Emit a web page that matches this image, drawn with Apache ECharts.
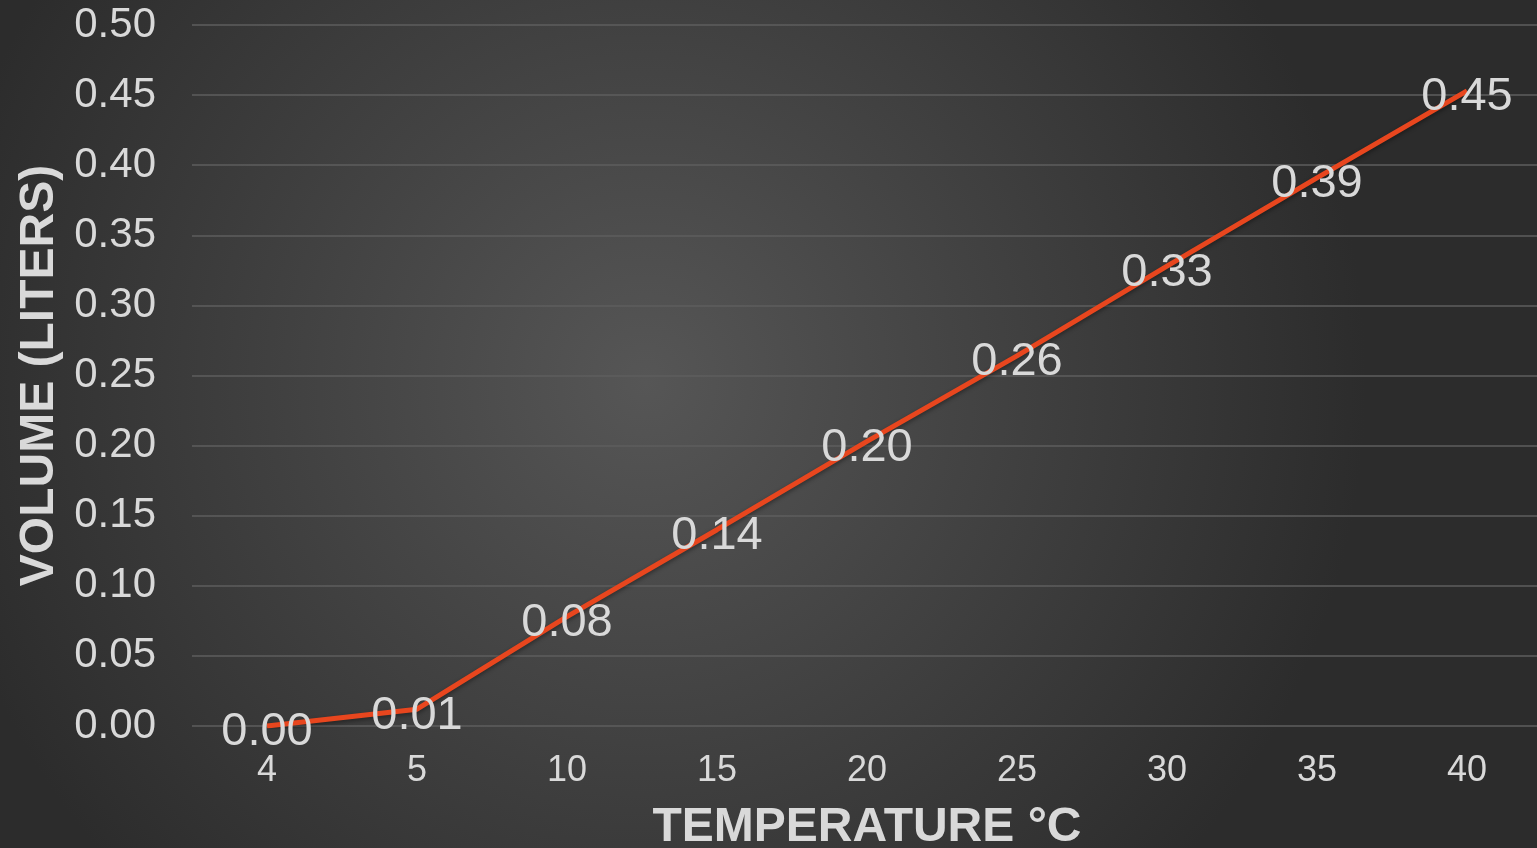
<!DOCTYPE html>
<html>
<head>
<meta charset="utf-8">
<style>html,body{margin:0;padding:0;background:#333;overflow:hidden;}#c{width:1537px;height:848px;}</style>
<script src="https://cdn.jsdelivr.net/npm/echarts@6/dist/echarts.min.js"></script>
</head>
<body>
<div id="c"></div>
<script>
const categories = ['4','5','10','15','20','25','30','35','40'];
const volumes = [0.0, 0.012, 0.078, 0.14, 0.203, 0.264, 0.328, 0.391, 0.453];
const xTitle = 'TEMPERATURE °C';
const yTitle = 'VOLUME (LITERS)';

const chart = echarts.init(document.getElementById('c'));
const txt = '#d9d9d9';
chart.setOption({
  backgroundColor: {
    type: 'radial', x: 0.42, y: 0.45, r: 0.85,
    colorStops: [{offset: 0, color: '#565656'}, {offset: 1, color: '#2c2c2c'}]
  },
  animation: false,
  grid: {left: 192, top: 25, width: 1350, height: 701, containLabel: false, outerBoundsMode: 'none'},
  xAxis: {
    type: 'category', data: categories, boundaryGap: true,
    axisLine: {show: false}, axisTick: {show: false},
    axisLabel: {color: txt, fontSize: 36, fontFamily: 'Liberation Sans, Arial', margin: 27},
    name: xTitle, nameLocation: 'middle', nameGap: 78,
    nameTextStyle: {color: txt, fontSize: 48, fontWeight: 'bold', fontFamily: 'Liberation Sans, Arial'}
  },
  yAxis: {
    type: 'value', min: 0, max: 0.5, interval: 0.05,
    axisLine: {show: false}, axisTick: {show: false},
    axisLabel: {color: txt, fontSize: 42, fontFamily: 'Liberation Sans, Arial', margin: 36,
      formatter: v => v.toFixed(2)},
    splitLine: {lineStyle: {color: '#5e5e5e', width: 1.5}},
    name: yTitle, nameLocation: 'middle', nameGap: 128,
    nameTextStyle: {color: txt, fontSize: 48, fontWeight: 'bold', fontFamily: 'Liberation Sans, Arial'}
  },
  series: [{
    type: 'line', data: volumes, symbol: 'circle', symbolSize: 2, showSymbol: true,
    itemStyle: {color: 'rgba(0,0,0,0)', borderWidth: 0},
    lineStyle: {color: '#E8461E', width: 5, shadowColor: 'rgba(0,0,0,0.4)', shadowBlur: 4, shadowOffsetY: 2},
    label: {show: true, position: 'bottom', distance: -18, color: txt, fontSize: 47,
      fontFamily: 'Liberation Sans, Arial', formatter: p => p.value.toFixed(2)}
  }]
});
</script>
</body>
</html>
